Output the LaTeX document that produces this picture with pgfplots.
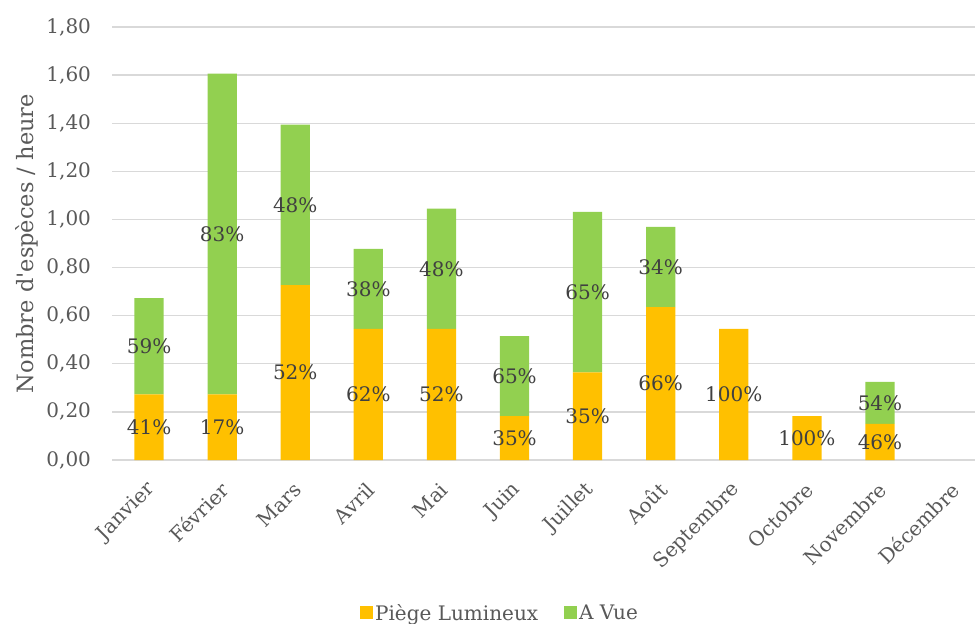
\documentclass[border=0pt]{standalone}
\usepackage{fontspec}
\setmainfont{DejaVu Serif}
\usepackage{pgfplots}
\pgfplotsset{compat=1.18}
\definecolor{orangeB}{HTML}{FFC000}
\definecolor{greenB}{HTML}{92D050}
\definecolor{gridc}{HTML}{D9D9D9}
\definecolor{tickc}{HTML}{595959}
\definecolor{labc}{HTML}{404040}
\begin{document}
\begin{tikzpicture}[x=1pt,y=1pt]
\useasboundingbox (-112.5,-164) rectangle (862.5,460);
\begin{axis}[
  at={(0,0)}, anchor=south west,
  scale only axis, width=862.5pt, height=433pt,
  ybar stacked, bar width=0.4,
  xmin=-0.5, xmax=11.3, ymin=0, ymax=1.8,
  xtick={0,1,2,3,4,5,6,7,8,9,10,11},
  xticklabels={Janvier,Février,Mars,Avril,Mai,Juin,Juillet,Août,Septembre,Octobre,Novembre,Décembre},
  ytick={0,0.2,0.4,0.6,0.8,1.0,1.2,1.4,1.6,1.8},
  /pgf/number format/fixed, /pgf/number format/fixed zerofill, /pgf/number format/precision=2,
  /pgf/number format/use comma, /pgf/number format/assume math mode=true,
  ymajorgrids, grid style={gridc, line width=1.3pt},
  axis line style={draw=none},
  major tick length=0pt,
  tick label style={font=\fontsize{20}{24}\selectfont, text=tickc},
  yticklabel style={anchor=east, xshift=-18pt},
  xticklabel style={xshift=5pt, yshift=-24pt, rotate=45, anchor=east},
  ylabel={Nombre d\textquotesingle espèces / heure},
  ylabel style={at={(axis description cs:-0.0991,0.5)}, anchor=center, font=\fontsize{22.5}{26}\selectfont, text=tickc},
  legend style={at={(0.4493,-0.3533)}, anchor=center, draw=none, legend columns=2,
    font=\fontsize{20}{24}\selectfont, text=tickc,
    /tikz/every even column/.append style={column sep=24pt}},
  legend image code/.code={\fill[#1] (-4pt,-6.5pt) rectangle (9pt,6.5pt);},
  point meta=explicit symbolic,
  nodes near coords={\pgfplotspointmeta},
  nodes near coords align={center},
  every node near coord/.append style={anchor=center, font=\fontsize{20}{24}\selectfont, text=labc},
]
\addplot[fill=orangeB, draw=none] coordinates {
  (0,0.273) [41\%]
  (1,0.273) [17\%]
  (2,0.727) [52\%]
  (3,0.545) [62\%]
  (4,0.545) [52\%]
  (5,0.182) [35\%]
  (6,0.364) [35\%]
  (7,0.636) [66\%]
  (8,0.545) [100\%]
  (9,0.182) [100\%]
  (10,0.150) [46\%]
  (11,0) [\relax]
};
\addlegendentry{Piège Lumineux}
\addplot[fill=greenB, draw=none] coordinates {
  (0,0.400) [59\%]
  (1,1.333) [83\%]
  (2,0.667) [48\%]
  (3,0.333) [38\%]
  (4,0.500) [48\%]
  (5,0.333) [65\%]
  (6,0.667) [65\%]
  (7,0.333) [34\%]
  (8,0) [\relax]
  (9,0) [\relax]
  (10,0.175) [54\%]
  (11,0) [\relax]
};
\addlegendentry{A Vue}
\end{axis}
\end{tikzpicture}
\end{document}
